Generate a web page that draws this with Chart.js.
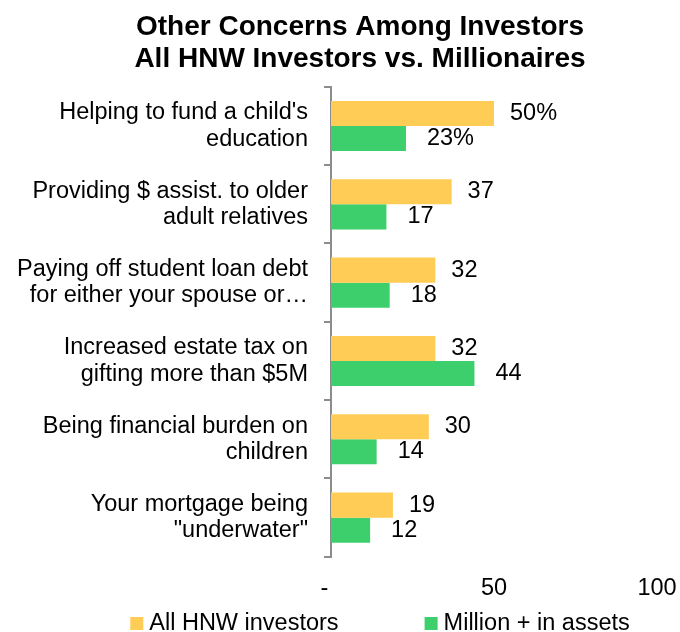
<!DOCTYPE html>
<html>
<head>
<meta charset="utf-8">
<script src="https://cdn.jsdelivr.net/npm/chart.js@4.4.0/dist/chart.umd.min.js"></script>
<style>
  html, body { margin: 0; padding: 0; background: #fff; }
  canvas { display: block; }
</style>
</head>
<body>
<canvas id="concerns" width="680" height="632"></canvas>
<script>
// Survey results: share of investors citing each concern (%)
const TITLE = ['Other Concerns Among Investors', 'All HNW Investors vs. Millionaires'];
const CATEGORIES = [
  ["Helping to fund a child's", 'education'],
  ['Providing $ assist. to older', 'adult relatives'],
  ['Paying off student loan debt', 'for either your spouse or…'],
  ['Increased estate tax on', 'gifting more than $5M'],
  ['Being financial burden on', 'children'],
  ['Your mortgage being', '"underwater"'],
];
const SERIES_NAMES = ['All HNW investors', 'Million + in assets'];
const ALL_HNW = [50, 37, 32, 32, 30, 19];
const MILLIONAIRES = [23, 17, 18, 44, 14, 12];
const X_TICKS = [0, 50, 100];

const SERIES_COLORS = ['#FFCC55', '#3DCF6B'];
const FONT = '"Liberation Sans", Arial, sans-serif';
const TEXT_SIZE = 23.5;
const AXIS_GREY = '#8c8c8c';
const LABEL_GAP = [16, 21];

// Numbers printed past the end of each bar; the first row carries a % sign
const valueLabels = {
  id: 'valueLabels',
  afterDatasetsDraw(chart) {
    var ctx = chart.ctx;
    ctx.save();
    ctx.font = TEXT_SIZE + 'px ' + FONT;
    ctx.fillStyle = '#000';
    ctx.textAlign = 'left';
    ctx.textBaseline = 'middle';
    chart.data.datasets.forEach(function (ds, di) {
      chart.getDatasetMeta(di).data.forEach(function (bar, i) {
        var text = ds.data[i] + (i === 0 ? '%' : '');
        ctx.fillText(text, bar.x + LABEL_GAP[di], bar.y);
      });
    });
    ctx.restore();
  },
};

// Small square swatches under the axis, spaced wide apart
const bottomLegend = {
  id: 'bottomLegend',
  afterDraw(chart) {
    var ctx = chart.ctx;
    var box = 13, gap = 6, spacing = 86;
    ctx.save();
    ctx.font = TEXT_SIZE + 'px ' + FONT;
    ctx.textAlign = 'left';
    ctx.textBaseline = 'middle';
    var widths = chart.data.datasets.map(function (ds) {
      return box + gap + ctx.measureText(ds.label).width;
    });
    var total = widths.reduce(function (a, b) { return a + b; }, 0) + spacing * (widths.length - 1);
    var x = (chart.width - total) / 2 + 40;
    var y = chart.height - 9;
    chart.data.datasets.forEach(function (ds, i) {
      ctx.fillStyle = ds.backgroundColor;
      ctx.fillRect(x, y - 6, box, box);
      ctx.fillStyle = '#000';
      ctx.fillText(ds.label, x + box + gap, y + 1);
      x += widths[i] + spacing;
    });
    ctx.restore();
  },
};

// The left padding only serves to centre the title; let the category
// labels run into it instead of being clipped at the scale's edge
const wideLabels = {
  id: 'wideLabels',
  afterLayout(chart) {
    chart.scales.y.left = 0;
  },
};

new Chart(document.getElementById('concerns'), {
  type: 'bar',
  data: {
    labels: CATEGORIES,
    datasets: [
      { label: SERIES_NAMES[0], data: ALL_HNW, backgroundColor: SERIES_COLORS[0] },
      { label: SERIES_NAMES[1], data: MILLIONAIRES, backgroundColor: SERIES_COLORS[1] },
    ],
  },
  options: {
    indexAxis: 'y',
    responsive: false,
    animation: false,
    categoryPercentage: 0.64,
    barPercentage: 1.0,
    layout: { padding: { left: 63, right: 23, top: 0, bottom: 11 } },
    plugins: {
      legend: { display: false },
      tooltip: { enabled: false },
      title: {
        display: true,
        text: TITLE,
        color: '#000',
        font: { family: FONT, size: 28, weight: 'bold', lineHeight: 1.14 },
        padding: { top: 11, bottom: 12 },
      },
    },
    scales: {
      x: {
        min: X_TICKS[0],
        max: X_TICKS[X_TICKS.length - 1],
        // the end labels may overhang; the layout padding already leaves room
        afterFit: function (scale) { scale.paddingLeft = 0; scale.paddingRight = 0; },
        grid: { display: false, drawTicks: false, tickLength: 0 },
        border: { display: false },
        ticks: {
          stepSize: X_TICKS[1] - X_TICKS[0],
          padding: 18,
          color: '#000',
          font: { family: FONT, size: TEXT_SIZE },
          callback: function (v) { return v === 0 ? '-  ' : v; },
        },
      },
      y: {
        afterFit: function (scale) { scale.width = 268; },
        grid: {
          display: true,
          drawOnChartArea: false,
          drawTicks: true,
          tickLength: 7,
          color: AXIS_GREY,
          lineWidth: 2,
        },
        border: { display: true, color: AXIS_GREY, width: 2 },
        ticks: {
          padding: 16,
          color: '#000',
          font: { family: FONT, size: TEXT_SIZE, lineHeight: 1.11 },
        },
      },
    },
  },
  plugins: [wideLabels, valueLabels, bottomLegend],
});
</script>
</body>
</html>
